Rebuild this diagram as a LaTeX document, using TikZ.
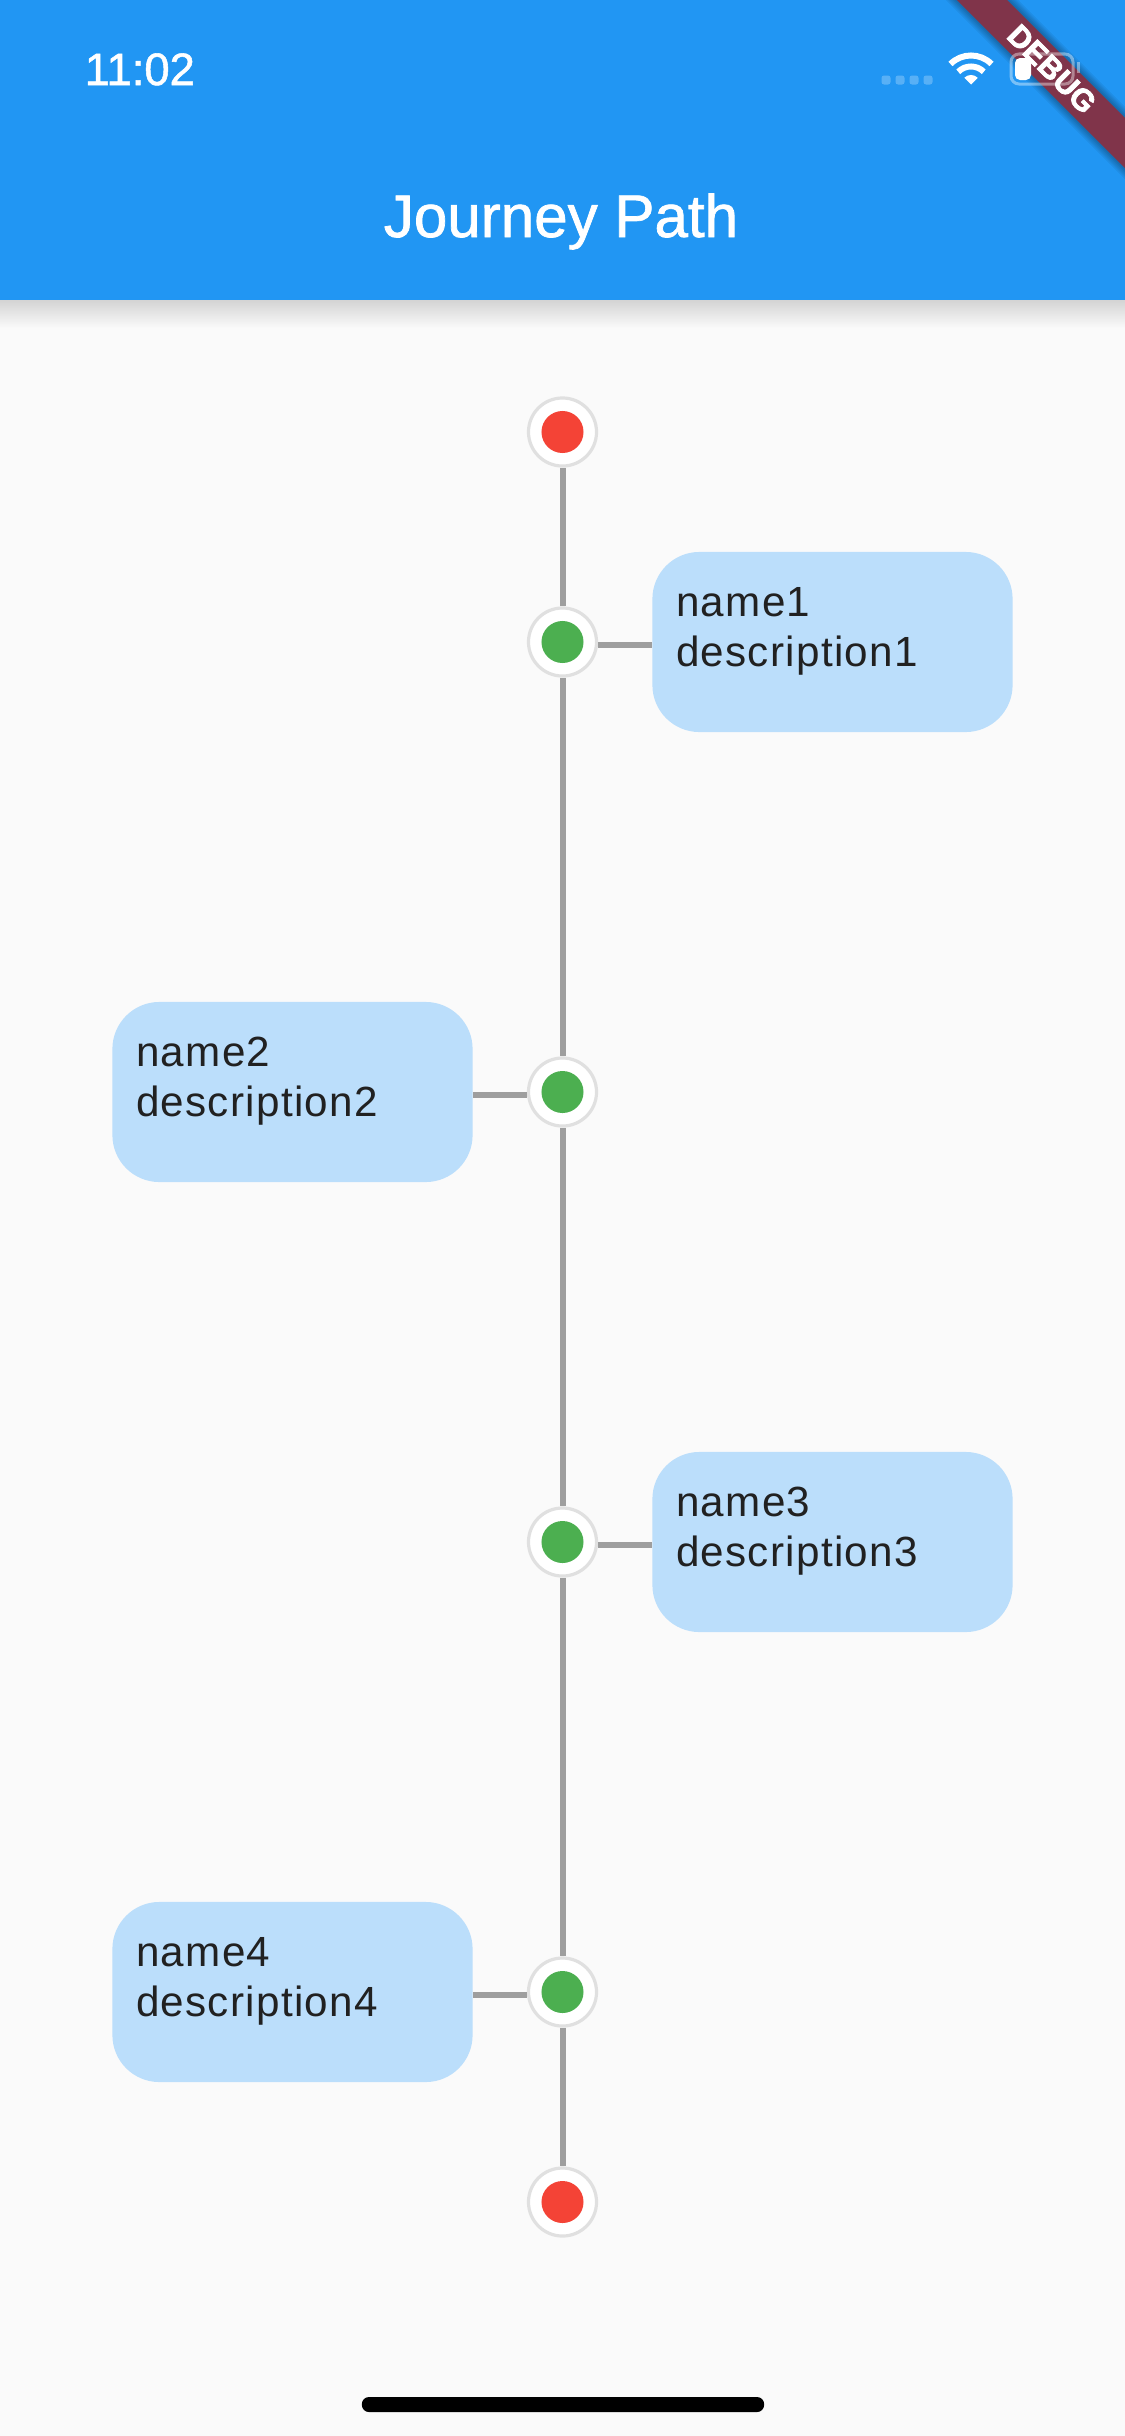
\documentclass[tikz,border=0pt]{standalone}
\usepackage{fontspec}
\setmainfont{Liberation Sans}
\newfontfamily\bannerfont{Liberation Sans}[BoldFeatures={FakeBold=2.5}]
\newfontfamily\barfont{Liberation Sans}[FakeBold=1.2]
\newfontfamily\bodyfont{Liberation Sans}[LetterSpace=3]
\usepackage{xcolor}
\definecolor{barblue}{HTML}{2196F3}
\definecolor{pagebg}{HTML}{FAFAFA}
\definecolor{boxblue}{HTML}{BBDEFB}
\definecolor{ringgray}{HTML}{E0E0E0}
\definecolor{linegray}{HTML}{9E9E9E}
\definecolor{dotgreen}{HTML}{4CAF50}
\definecolor{dotred}{HTML}{F44336}
\definecolor{bannerred}{HTML}{80344A}
\definecolor{inkdark}{HTML}{212121}

\begin{document}
\begin{tikzpicture}[x=0.01cm,y=-0.01cm,
  stp/.style ={circle, draw=ringgray, fill=white, line width=0.032cm,
               minimum size=0.68cm, inner sep=0pt},
  dotg/.style={circle, fill=dotgreen, minimum size=0.42cm, inner sep=0pt},
  dotr/.style={circle, fill=dotred, minimum size=0.42cm, inner sep=0pt},
  bx/.style  ={fill=boxblue, rounded corners=0.47cm, minimum width=3.6cm,
               minimum height=1.8cm, inner sep=0pt},
  txt/.style ={anchor=north west, inner sep=0pt, outer sep=0pt, align=left,
               text=inkdark, font=\bodyfont\fontsize{12}{14.2}\selectfont},
  sk/.style  ={linegray, line width=0.06cm},
  wf/.style  ={white, line width=0.06cm}
]
\useasboundingbox (0,0) rectangle (1125,2436);
\fill[pagebg] (0,0) rectangle (1125,2436);

%% app bar
\shade[top color=black!17, bottom color=pagebg] (0,300) rectangle (1125,328);
\fill[barblue] (0,0) rectangle (1125,300);
\node[text=white, font=\barfont\fontsize{12.9}{15}\selectfont, anchor=base west,
      inner sep=0pt] (clock) at (84,85) {11:02};
\node[text=white, font=\barfont\fontsize{17.1}{20}\selectfont, anchor=base,
      inner sep=0pt] (title) at (561,237) {Journey Path};

%% banner
\begin{scope}
  \clip (0,0) rectangle (1125,300);
  \foreach \w in {0.39,0.42,0.45,0.48,0.51}
    \draw[black, opacity=0.06, line width=\w cm] (962,-20)--(1145,163);
  \draw[bannerred, line width=0.354cm] (962,-20)--(1145,163);
\end{scope}
\node[text=white, rotate=-45, inner sep=0pt,
      font=\bannerfont\bfseries\fontsize{8.7}{10}\selectfont] (debug) at (1052,69) {DEBUG};

%% status icons
\foreach \x in {886,900,914,928}
  \fill[white, opacity=0.25, rounded corners=0.025cm] (\x-4.5,75.5) rectangle (\x+4.5,84.5);
\coordinate (wifi) at (971,84.5);
\draw[wf] (wifi) ++(135:0.29cm) arc[start angle=135, end angle=45, radius=0.29cm];
\draw[wf] (wifi) ++(135:0.18cm) arc[start angle=135, end angle=45, radius=0.18cm];
\fill[white] (wifi) -- ++(135:0.095cm) arc[start angle=135, end angle=45, radius=0.095cm] -- cycle;
\draw[white, opacity=0.4, line width=0.03cm, rounded corners=0.08cm] (1011,54) rectangle (1073,84);
\fill[white, rounded corners=0.05cm] (1015,58) rectangle (1031,80);
\fill[white, opacity=0.4] (1077,62) rectangle (1080,73);

%% stops
\node[stp] (st0) at (562.5,432) {};
\node[dotr] (dt0) at (st0) {};
\foreach \i/\yy in {1/642,2/1092,3/1542,4/1992}{
  \node[stp] (st\i) at (562.5,\yy) {};
  \node[dotg] (dt\i) at (st\i) {};
}
\node[stp] (st5) at (562.5,2202) {};
\node[dotr] (dt5) at (st5) {};

%% boxes
\node[bx] (bx1) at (832.5,642) {};
\node[bx] (bx2) at (292.5,1092) {};
\node[bx] (bx3) at (832.5,1542) {};
\node[bx] (bx4) at (292.5,1992) {};
\foreach \i in {1,...,4}
  \node[txt] (tx\i) at ([xshift=0.245cm,yshift=-0.36cm]bx\i.north west) {name\i\\description\i};

%% path edges
\foreach \a/\b in {st0/st1,st1/st2,st2/st3,st3/st4,st4/st5}
  \draw[sk] (\a)--(\b);
\foreach \a/\b/\c/\d in {st1/bx1/east/west,st3/bx3/east/west,st2/bx2/west/east,st4/bx4/west/east}
  \draw[sk] ([yshift=-0.03cm]\a.\c)--([yshift=-0.03cm]\b.\d);

%% home bar
\node[fill=black, rounded corners=0.07cm, minimum width=4.02cm, minimum height=0.15cm,
      inner sep=0pt] (home) at (563,2404.5) {};
\end{tikzpicture}
\end{document}
